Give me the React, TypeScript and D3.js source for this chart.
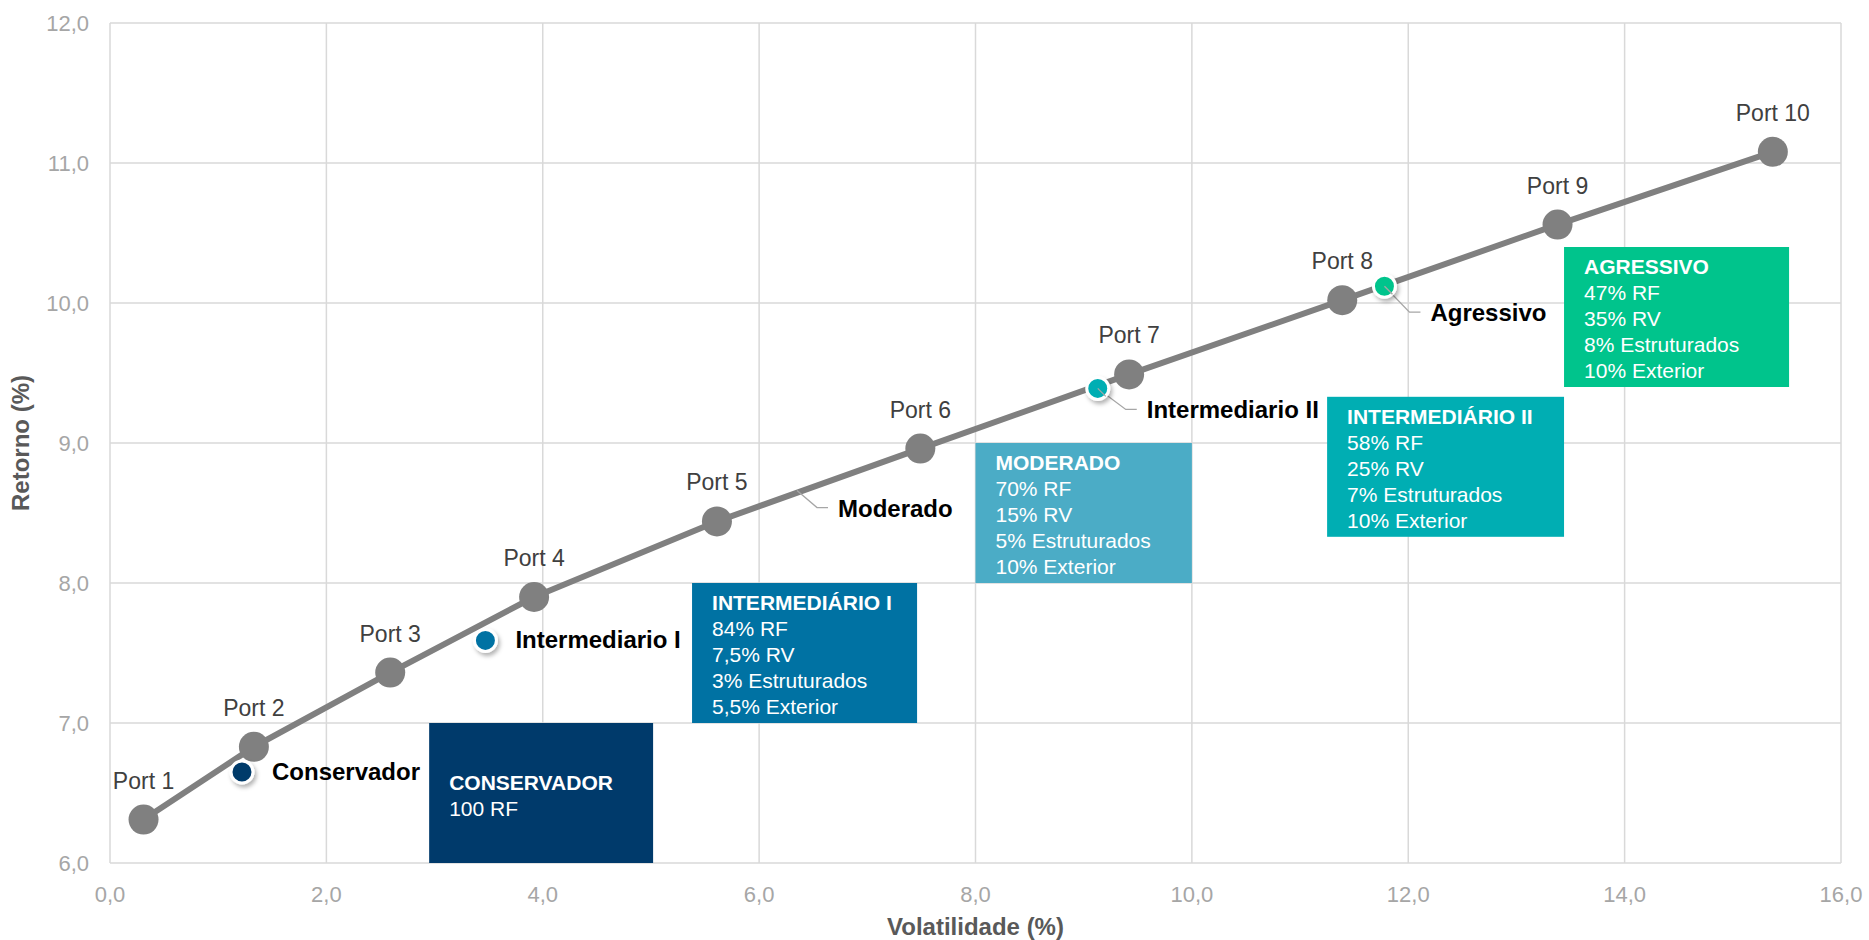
import React from "react";
import * as d3 from "d3";

const portNames = ["Port 1", "Port 2", "Port 3", "Port 4", "Port 5", "Port 6", "Port 7", "Port 8", "Port 9", "Port 10"];
const portVol = [0.31, 1.33, 2.59, 3.92, 5.61, 7.49, 9.42, 11.39, 13.38, 15.37];
const portRet = [6.31, 6.83, 7.36, 7.9, 8.44, 8.96, 9.49, 10.02, 10.56, 11.08];

const profileNames = ["Conservador", "Intermediario I", "Moderado", "Intermediario II", "Agressivo"];
const profileVol = [1.22, 3.47, 6.35, 9.13, 11.78];
const profileRet = [6.65, 7.59, 8.66, 9.39, 10.12];
const profileColors = ["#003A6B", "#0072A3", "none", "#00AEB3", "#00C48C"];
const profileLeader = [false, false, true, true, true];

const boxTitles = ["CONSERVADOR", "INTERMEDIÁRIO I", "MODERADO", "INTERMEDIÁRIO II", "AGRESSIVO"];
const boxLines = [
  ["100 RF"],
  ["84% RF", "7,5% RV", "3% Estruturados", "5,5% Exterior"],
  ["70% RF", "15% RV", "5% Estruturados", "10% Exterior"],
  ["58% RF", "25% RV", "7% Estruturados", "10% Exterior"],
  ["47% RF", "35% RV", "8% Estruturados", "10% Exterior"],
];
const boxX0 = [2.95, 5.38, 8.0, 11.25, 13.44];
const boxX1 = [5.02, 7.46, 10.0, 13.44, 15.52];
const boxY0 = [6.0, 7.0, 8.0, 8.33, 9.4];
const boxY1 = [7.0, 8.0, 9.0, 9.33, 10.4];
const boxColors = ["#003A6B", "#0072A3", "#4BACC6", "#00AEB3", "#00C48C"];

const xTicks = [0, 2, 4, 6, 8, 10, 12, 14, 16];
const yTicks = [6, 7, 8, 9, 10, 11, 12];

const W = 1869;
const H = 940;
const FONT = "'Liberation Sans', Arial, sans-serif";
const LEADER_DX = [0, 0, 20, 28, 25];
const LEADER_DY = [0, 0, 17, 21, 26];

export default function App() {
  const x = d3.scaleLinear().domain([0, 16]).range([110, 1841]);
  const y = d3.scaleLinear().domain([6, 12]).range([863, 23]);
  const fmt = (v: number) => v.toFixed(1).replace(".", ",");
  const line = d3
    .line<number>()
    .x((_, i) => x(portVol[i]))
    .y((_, i) => y(portRet[i]));

  return (
    <svg
      width={W}
      height={H}
      style={{ position: "absolute", left: 0, top: 0, background: "#fff" }}
      fontFamily={FONT}
    >
      <defs>
        <filter id="sh" x="-50%" y="-50%" width="200%" height="200%">
          <feDropShadow dx="2" dy="3" stdDeviation="2" floodColor="#000" floodOpacity="0.3" />
        </filter>
      </defs>
      {xTicks.map((t) => (
        <line key={"gx" + t} x1={x(t)} x2={x(t)} y1={y(6)} y2={y(12)} stroke="#D9D9D9" strokeWidth={1.5} />
      ))}
      {yTicks.map((t) => (
        <line key={"gy" + t} x1={x(0)} x2={x(16)} y1={y(t)} y2={y(t)} stroke="#D9D9D9" strokeWidth={1.5} />
      ))}
      {xTicks.map((t) => (
        <text key={"tx" + t} x={x(t)} y={902} textAnchor="middle" fontSize={22} fill="#A6A6A6">
          {fmt(t)}
        </text>
      ))}
      {yTicks.map((t) => (
        <text key={"ty" + t} x={89} y={y(t) + 8} textAnchor="end" fontSize={22} fill="#A6A6A6">
          {fmt(t)}
        </text>
      ))}
      <text x={(x(0) + x(16)) / 2} y={935} textAnchor="middle" fontSize={24} fontWeight="bold" fill="#595959">
        Volatilidade (%)
      </text>
      <text
        transform={`translate(29,${(y(6) + y(12)) / 2}) rotate(-90)`}
        textAnchor="middle"
        fontSize={24}
        fontWeight="bold"
        fill="#595959"
      >
        Retorno (%)
      </text>
      {boxTitles.map((title, i) => {
        const bx = x(boxX0[i]);
        const by = y(boxY1[i]);
        const bw = x(boxX1[i]) - x(boxX0[i]);
        const bh = y(boxY0[i]) - y(boxY1[i]);
        const firstY = i === 0 ? by + 67 : by + 27;
        return (
          <g key={"b" + i}>
            <rect x={bx} y={by} width={bw} height={bh} fill={boxColors[i]} />
            <text x={bx + 20} y={firstY} fontSize={21} fontWeight="bold" fill="#fff">
              {title}
            </text>
            {boxLines[i].map((l, j) => (
              <text key={j} x={bx + 20} y={firstY + 26 * (j + 1)} fontSize={21} fill="#fff">
                {l}
              </text>
            ))}
          </g>
        );
      })}
      <path d={line(portVol) || ""} fill="none" stroke="#808080" strokeWidth={6} strokeLinejoin="round" />
      {portNames.map((n, i) => (
        <g key={"p" + i}>
          <circle cx={x(portVol[i])} cy={y(portRet[i])} r={15} fill="#808080" />
          <text x={x(portVol[i])} y={y(portRet[i]) - 31} textAnchor="middle" fontSize={23} fill="#404040">
            {n}
          </text>
        </g>
      ))}
      {profileNames.map((n, i) => {
        const cx = x(profileVol[i]);
        const cy = y(profileRet[i]);
        if (profileLeader[i]) {
          const ex = cx + LEADER_DX[i];
          const ey = cy + LEADER_DY[i];
          return (
            <g key={"pr" + i}>
              <polyline
                points={`${cx},${cy} ${ex},${ey} ${ex + 11},${ey}`}
                fill="none"
                stroke="#A6A6A6"
                strokeWidth={1.3}
              />
              {profileColors[i] !== "none" && (
                <circle cx={cx} cy={cy} r={11} fill={profileColors[i]} stroke="#fff" strokeWidth={3} filter="url(#sh)" />
              )}
              {profileColors[i] !== "none" && (
                <line x1={cx} y1={cy} x2={cx + 8} y2={cy + 8} stroke="#A6A6A6" strokeWidth={1.3} />
              )}
              <text x={ex + 21} y={ey + 9} fontSize={24} fontWeight="bold" fill="#000">
                {n}
              </text>
            </g>
          );
        }
        return (
          <g key={"pr" + i}>
            <circle cx={cx} cy={cy} r={11} fill={profileColors[i]} stroke="#fff" strokeWidth={3} filter="url(#sh)" />
            <text x={cx + 30} y={cy + 8} fontSize={24} fontWeight="bold" fill="#000">
              {n}
            </text>
          </g>
        );
      })}
    </svg>
  );
}
